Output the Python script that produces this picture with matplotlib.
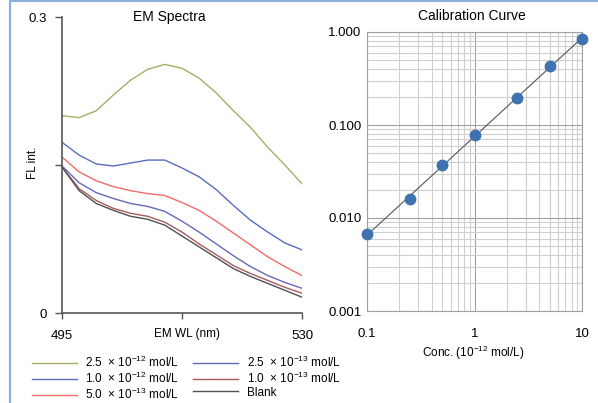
import numpy as np
import matplotlib
matplotlib.use("Agg")
import matplotlib.pyplot as plt
from matplotlib.patches import Rectangle

plt.rcParams['font.family'] = ['Liberation Sans', 'DejaVu Sans']
plt.rcParams['mathtext.default'] = 'regular'

# EM spectra
wl = [495, 497.5, 500, 502.5, 505, 507.5, 510, 512.5, 515, 517.5, 520, 522.5, 525, 527.5, 530]
fl_2_5e12 = [0.200, 0.198, 0.205, 0.221, 0.236, 0.247, 0.252, 0.248, 0.238, 0.223, 0.205, 0.188, 0.168, 0.150, 0.131]
fl_1_0e12 = [0.173, 0.160, 0.151, 0.149, 0.152, 0.155, 0.155, 0.147, 0.138, 0.125, 0.109, 0.094, 0.082, 0.071, 0.064]
fl_5_0e13 = [0.158, 0.143, 0.134, 0.128, 0.124, 0.121, 0.119, 0.112, 0.104, 0.093, 0.081, 0.069, 0.057, 0.047, 0.038]
fl_2_5e13 = [0.149, 0.132, 0.122, 0.116, 0.111, 0.108, 0.103, 0.093, 0.082, 0.070, 0.058, 0.047, 0.038, 0.031, 0.025]
fl_1_0e13 = [0.148, 0.126, 0.114, 0.106, 0.101, 0.098, 0.092, 0.082, 0.070, 0.059, 0.048, 0.040, 0.033, 0.026, 0.020]
fl_blank = [0.148, 0.124, 0.111, 0.104, 0.098, 0.095, 0.089, 0.078, 0.067, 0.056, 0.045, 0.037, 0.030, 0.023, 0.016]

series = [fl_2_5e12, fl_1_0e12, fl_5_0e13, fl_2_5e13, fl_1_0e13, fl_blank]
labels = ["2.5  \u00d7 10$^{-12}$ mol/L", "1.0  \u00d7 10$^{-12}$ mol/L", "5.0  \u00d7 10$^{-13}$ mol/L",
          "2.5  \u00d7 10$^{-13}$ mol/L", "1.0  \u00d7 10$^{-13}$ mol/L", "Blank"]
colors = ['#abab68', '#5a6cc0', '#f26a6a', '#6468bc', '#a85a5a', '#505050']

# calibration curve
conc = [0.1, 0.25, 0.5, 1.0, 2.5, 5.0, 10.0]
signal = [0.0067, 0.016, 0.037, 0.078, 0.195, 0.43, 0.84]

W, H = 598, 403
fig = plt.figure(figsize=(W / 100, H / 100), dpi=100)

# light blue frame (left + top visible)
fig.add_artist(Rectangle((10 / W, -0.1), 1.2, 1.1 - 1.5 / H, transform=fig.transFigure,
                         fill=False, edgecolor='#8aaee0', lw=1.5))

# ---- left: EM spectra
ax1 = fig.add_axes([62 / W, 1 - 313 / H, 240 / W, 296 / H])
lines = []
for y, c, lab in zip(series, colors, labels):
    l, = ax1.plot(wl, y, color=c, lw=1.0, label=lab)
    lines.append(l)
ax1.set_xlim(495, 530)
ax1.set_ylim(0, 0.3)
ax1.set_xticks([495, 512.5, 530])
ax1.set_xticklabels(['495', '', '530'])
ax1.set_yticks([0, 0.15, 0.3])
ax1.set_yticklabels(['0', '', '0.3'])
for s in ['top', 'right']:
    ax1.spines[s].set_visible(False)
for s in ['left', 'bottom']:
    ax1.spines[s].set_color('#555555')
    ax1.spines[s].set_linewidth(1.2)
ax1.tick_params(axis='x', length=4, width=1, color='#555555', pad=8, labelsize=9.5)
ax1.tick_params(axis='y', length=5, width=1, color='#555555', pad=6, labelsize=9.5)

fig.text(169 / W, 1 - 17 / H, "EM Spectra", ha='center', va='center', fontsize=10)
fig.text(33 / W, 1 - 163 / H, "FL int.", ha='center', va='center', rotation=90, fontsize=8.5)
fig.text(187 / W, 1 - 334 / H, "EM WL (nm)", ha='center', va='center', fontsize=8.5)

fig.legend(lines, labels, ncol=2, loc='upper left', bbox_to_anchor=(32 / W, 1 - 355 / H),
           frameon=False, fontsize=8.5, handlelength=3.8, handletextpad=0.7,
           columnspacing=1.2, labelspacing=0.05, borderaxespad=0, borderpad=0)

# ---- right: calibration curve
ax2 = fig.add_axes([367 / W, 1 - 311 / H, 215 / W, 279 / H])
ax2.set_xscale('log')
ax2.set_yscale('log')
ax2.set_xlim(0.1, 10)
ax2.set_ylim(0.001, 1)
ax2.grid(True, which='major', color='#a0a0a0', lw=0.8)
ax2.grid(True, which='minor', color='#cfcfcf', lw=0.8)
ax2.set_axisbelow(True)

k, b = np.polyfit(np.log10(conc), np.log10(signal), 1)
xf = np.array([min(conc), max(conc)])
ax2.plot(xf, 10 ** (k * np.log10(xf) + b), color='#555555', lw=0.8, zorder=3)
ax2.plot(conc, signal, 'o', color='#3f72b0', ms=7.5, mec='#3f72b0', zorder=4, clip_on=False)

ax2.set_xticks([0.1, 1, 10])
ax2.set_xticklabels(['0.1', '1', '10'])
ax2.set_yticks([0.001, 0.01, 0.1, 1])
ax2.set_yticklabels(['0.001', '0.010', '0.100', '1.000'])
ax2.xaxis.set_minor_formatter(plt.NullFormatter())
ax2.yaxis.set_minor_formatter(plt.NullFormatter())
ax2.tick_params(which='both', length=0)
ax2.tick_params(axis='x', pad=12, labelsize=9.5)
ax2.tick_params(axis='y', pad=4, labelsize=9.5)
for s in ax2.spines.values():
    s.set_color('#a0a0a0')
    s.set_linewidth(0.8)

fig.text(472 / W, 1 - 16 / H, "Calibration Curve", ha='center', va='center', fontsize=10)
fig.text(473 / W, 1 - 353 / H, "Conc. (10$^{-12}$ mol/L)", ha='center', va='center', fontsize=8.5)

fig.savefig("out.png", dpi=100)
